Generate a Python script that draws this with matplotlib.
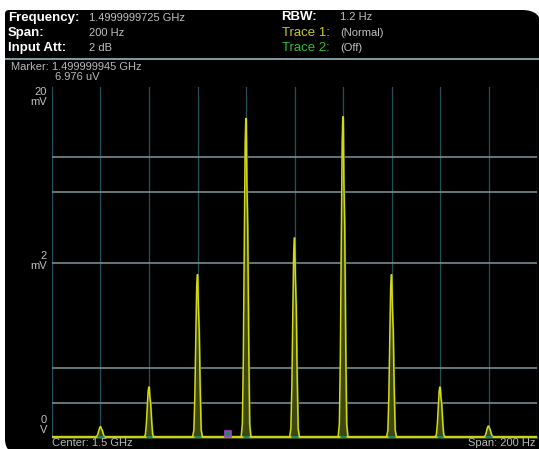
import matplotlib.pyplot as plt
from matplotlib.patches import FancyBboxPatch, Rectangle
import numpy as np

W, H = 539, 449

# frequency offsets of the peaks from center (Hz) and their heights (divisions)
peak_hz = [-80, -60, -40, -20, 0, 20, 40, 60, 80]
peak_div = [0.32, 1.45, 4.65, 9.1, 5.7, 9.15, 4.65, 1.45, 0.34]

# peak outline: offset (Hz) -> fraction of peak height
shape_hz = [-2.0, -1.5, -1.1, -0.7, -0.35, -0.1, 0.1, 0.35, 0.7, 1.1, 1.5, 2.0]
shape_rel = [0.0, 0.04, 0.25, 0.62, 0.92, 1.0, 1.0, 0.8, 0.66, 0.3, 0.04, 0.0]

baseline = 0.04
h_lines = [1.0, 2.0, 5.0, 7.0, 8.0]
y_labels = [('20', 'mV', 92), ('2', 'mV', 256), ('0', 'V', 420)]
marker_hz = -27.5

fig = plt.figure(figsize=(W / 100, H / 100), dpi=100)
fig.patch.set_facecolor('white')


def fx(x):
    return x / W


def fy(y):
    return 1 - y / H


# black screen
screen = FancyBboxPatch((fx(5), fy(455)), fx(541) - fx(5), fy(10) - fy(455),
                        boxstyle='round,pad=0,rounding_size=0.035',
                        transform=fig.transFigure, facecolor='black',
                        edgecolor='none', zorder=-5)
fig.patches.append(screen)
fig.patches.append(FancyBboxPatch((fx(5), fy(40)), fx(40) - fx(5), fy(10) - fy(40),
                                  boxstyle='round,pad=0,rounding_size=0.008',
                                  transform=fig.transFigure, facecolor='black',
                                  edgecolor='none', zorder=-5))
fig.patches.append(Rectangle((fx(500), fy(455)), fx(541) - fx(500), fy(60) - fy(455),
                             transform=fig.transFigure, facecolor='black',
                             edgecolor='none', zorder=-5))
fig.patches.append(Rectangle((fx(5), fy(59.5)), fx(539) - fx(5), 1.6 / H,
                             transform=fig.transFigure, facecolor='#7f969a',
                             edgecolor='none', zorder=-4))

ax = fig.add_axes([fx(52), fy(438), fx(537) - fx(52), fy(87) - fy(438)])
ax.set_zorder(2)
ax.set_facecolor('black')
ax.set_xlim(-100, 100)
ax.set_ylim(0, 10)
for s in ax.spines.values():
    s.set_visible(False)
ax.set_xticks([])
ax.set_yticks([])

for xv in np.arange(-100, 101, 20):
    ax.axvline(xv, color='#24505a', lw=0.9, zorder=1)
for yv in h_lines:
    ax.axhline(yv, color='#7d989c', lw=1.1, zorder=1)

# trace
xs = [-100]
ys = [baseline]
for c, h in zip(peak_hz, peak_div):
    for o, r in zip(shape_hz, shape_rel):
        xs.append(c + o)
        ys.append(baseline + r * (h - baseline))
xs.append(100)
ys.append(baseline)
ax.fill_between(xs, 0, ys, color='#3c4810', zorder=2)
ax.plot(xs, ys, color='#d2da18', lw=1.1, zorder=3)
ax.plot([-100, 100], [baseline, baseline], color='#c8d018', lw=2.0, zorder=3)
for c in peak_hz:
    ax.plot([c - 1.4, c + 1.4], [baseline, baseline], color='#168a6c',
            lw=2.2, zorder=4, solid_capstyle='butt')

# marker
ax.plot([marker_hz], [baseline + 0.08], marker='s', ms=5, mfc='#1c8a60',
        mec='#a040d0', mew=1.2, zorder=5, clip_on=False)

# amplitude labels
yl = dict(family='Liberation Sans', fontsize=8, va='center', ha='right',
          color='#c0c0c0')
for num, unit, ypx in y_labels:
    fig.text(fx(47), fy(ypx), num, **yl)
    fig.text(fx(47), fy(ypx + 10), unit, **yl)

# header
lab = dict(family='Liberation Sans', fontsize=9.5, va='center')
val = dict(family='Liberation Sans', fontsize=8, va='center', color='#c0c0c0')
fig.text(fx(8), fy(18), 'Frequency:', color='white', weight='bold', **lab)
fig.text(fx(8), fy(33), 'Span:', color='white', weight='bold', **lab)
fig.text(fx(8), fy(48), 'Input Att:', color='white', weight='bold', **lab)
fig.text(fx(89), fy(18), '1.4999999725 GHz', **val)
fig.text(fx(89), fy(33), '200 Hz', **val)
fig.text(fx(89), fy(48), '2 dB', **val)
fig.text(fx(281), fy(17), 'RBW:', color='white', weight='bold', **lab)
fig.text(fx(282), fy(33), 'Trace 1:', color='#c8c820', **lab)
fig.text(fx(282), fy(48), 'Trace 2:', color='#30c030', **lab)
fig.text(fx(340), fy(17), '1.2 Hz', **val)
fig.text(fx(340), fy(33), '(Normal)', **val)
fig.text(fx(340), fy(48), '(Off)', **val)

mk = dict(family='Liberation Sans', fontsize=8, va='center', color='#b8b8b8')
fig.text(fx(11), fy(67), 'Marker: 1.499999945 GHz', **mk)
fig.text(fx(55), fy(77), '6.976 uV', **mk)
fig.text(fx(52), fy(443), 'Center: 1.5 GHz', **mk)
fig.text(fx(536), fy(443), 'Span: 200 Hz', ha='right', **mk)

fig.savefig('out.png', dpi=100, facecolor='white')
